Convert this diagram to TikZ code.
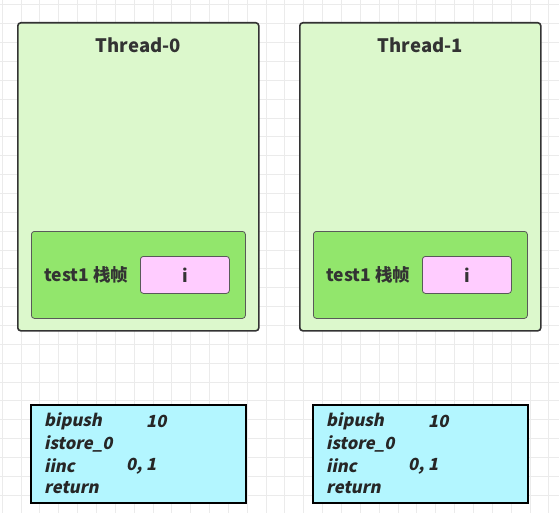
\documentclass[tikz,border=0pt]{standalone}
\usepackage{fontspec}
\setmainfont{Noto Sans CJK SC}
\newfontfamily\codefont{Noto Sans CJK SC}[FakeSlant=0.2,BoldFeatures={FakeSlant=0.2}]
\begin{document}
\begin{tikzpicture}[x=1pt,y=-1pt,
  thread/.style={draw=black!80,line width=1.6pt,fill=threadfill,rounded corners=3pt},
  frame/.style={draw=black!65,line width=0.8pt,fill=framefill,rounded corners=3pt},
  slot/.style={draw=black!65,line width=0.8pt,fill=slotfill,rounded corners=3pt},
  code/.style={draw=black,line width=1.6pt,fill=codefill},
  title/.style={font=\fontsize{18.5}{22}\selectfont\bfseries,text=black!80},
  lbl/.style={font=\fontsize{17.5}{21}\selectfont\bfseries,text=black!80},
  ins/.style={font=\codefont\fontsize{16.7}{20}\selectfont\bfseries,text=black!85,anchor=west,inner sep=0pt}
]
\definecolor{threadfill}{HTML}{DCF8CC}
\definecolor{framefill}{HTML}{92E66C}
\definecolor{slotfill}{HTML}{FFCCFF}
\definecolor{codefill}{HTML}{B3F6FF}
\useasboundingbox (0,0) rectangle (559,513);
\fill[white] (0,0) rectangle (559,513);
\foreach \k in {0,...,29} {
  \draw[black!8,line width=0.6pt] ({2+18.85*\k},0) -- ({2+18.85*\k},513);
}
\foreach \k in {0,...,27} {
  \draw[black!8,line width=0.6pt] (0,{4.8+18.85*\k}) -- (559,{4.8+18.85*\k});
}
% Thread boxes
\foreach \n/\x/\t in {0/17/Thread-0,1/299/Thread-1} {
  \node[thread,minimum width=241pt,minimum height=308pt,anchor=north west,inner sep=0pt] (th\n) at (\x,22) {};
  \node[title] (tt\n) at ([yshift=-23pt]th\n.north) {\t};
  \node[frame,minimum width=214pt,minimum height=87pt,anchor=north west,inner sep=0pt] (fr\n) at (\x+14,231) {};
  \node[lbl,anchor=west,inner sep=0pt] (fl\n) at ([xshift=13pt]fr\n.west) {test1 栈帧};
  \node[slot,minimum width=89pt,minimum height=37pt,anchor=north west,inner sep=0pt] (sl\n) at (\x+123,256) {};
  \node[lbl] (sv\n) at (sl\n) {i};
}
% Code boxes
\foreach \n/\x in {0/30,1/312} {
  \node[code,minimum width=215pt,minimum height=98pt,anchor=north west,inner sep=0pt] (cb\n) at (\x,404) {};
  \node[ins] (c1\n) at (\x+14,421.5) {bipush};
  \node[ins] (c1v\n) at (\x+116,421.5) {10};
  \node[ins] (c2\n) at (\x+14,443.5) {istore\_0};
  \node[ins] (c3\n) at (\x+14,466) {iinc};
  \node[ins] (c3v\n) at (\x+96,466) {0, 1};
  \node[ins] (c4\n) at (\x+14,488) {return};
}
\end{tikzpicture}
\end{document}
